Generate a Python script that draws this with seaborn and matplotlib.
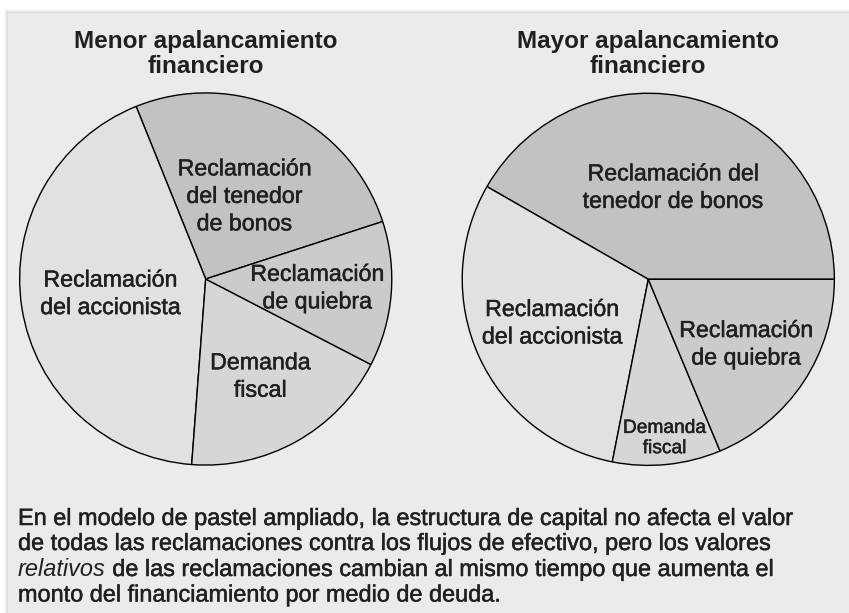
import numpy as np
import matplotlib
matplotlib.use("Agg")
import matplotlib.pyplot as plt
import matplotlib.patheffects as pe
from matplotlib.patches import Rectangle
import seaborn as sns

# Data (share of the pie, in %)
categories = ["Reclamación del tenedor de bonos", "Reclamación del accionista",
              "Demanda fiscal", "Reclamación de quiebra"]
labels_low = ["Reclamación\ndel tenedor\nde bonos", "Reclamación\ndel accionista",
              "Demanda\nfiscal", "Reclamación\nde quiebra"]
labels_high = ["Reclamación del\ntenedor de bonos", "Reclamación\ndel accionista",
               "Demanda\nfiscal", "Reclamación\nde quiebra"]
shares_low = [26.1, 42.7, 18.6, 12.6]
shares_high = [41.7, 30.2, 9.4, 18.7]
titles = ["Menor apalancamiento\nfinanciero", "Mayor apalancamiento\nfinanciero"]
caption = [
    "En el modelo de pastel ampliado, la estructura de capital no afecta el valor",
    "de todas las reclamaciones contra los flujos de efectivo, pero los valores",
    ("relativos", " de las reclamaciones cambian al mismo tiempo que aumenta el"),
    "monto del financiamiento por medio de deuda.",
]

# Styles
slice_colors = ["#c2c2c4", "#e1e1e1", "#d6d6d6", "#cbcbcb"]
panel_color = "#ebebeb"
ink = "#231f20"
heavy = [pe.withStroke(linewidth=0.35, foreground=ink)]

sns.set_theme(style="white")
plt.rcParams["font.family"] = ["Liberation Sans", "DejaVu Sans"]

W, H = 849, 613
fig = plt.figure(figsize=(W / 100, H / 100), dpi=100, facecolor="white")


def fx(px):
    return px / W


def fy(py):
    return 1 - py / H


# grey panel with a soft shadow on the top/left
for i, a in enumerate([0.02, 0.03, 0.04, 0.05]):
    fig.patches.append(Rectangle((fx(4 + i), 0), 1, fy(9 + i), transform=fig.transFigure,
                                 facecolor="#000000", alpha=a, edgecolor="none", zorder=-3))
fig.patches.append(Rectangle((fx(8), 0), 1, fy(13), transform=fig.transFigure,
                             facecolor=panel_color, edgecolor="none", zorder=-2))


def draw_pie(cx, cy, r, shares, labels, start, dists, sizes, title):
    ax = fig.add_axes([fx(cx - r), fy(cy + r), 2 * r / W, 2 * r / H])
    ax.set_facecolor("none")
    wedges, _ = ax.pie(shares, colors=slice_colors, startangle=start, counterclock=True,
                       wedgeprops=dict(edgecolor="black", linewidth=1.0))
    for w, lab, d, s in zip(wedges, labels, dists, sizes):
        mid = np.deg2rad((w.theta1 + w.theta2) / 2)
        ax.text(d * np.cos(mid), d * np.sin(mid), lab, ha="center", va="center",
                multialignment="center", fontsize=s, color=ink, linespacing=1.25,
                path_effects=heavy)
    ax.set_xlim(-1.005, 1.005)
    ax.set_ylim(-1.005, 1.005)
    ax.set_aspect("equal")
    ax.axis("off")
    fig.text(fx(cx), fy(54), title, ha="center", va="center", fontsize=17.5,
             fontweight="bold", color=ink, linespacing=1.1)
    return ax


ax_low = draw_pie(205.7, 279, 187, shares_low, labels_low, 18,
                  [0.49, 0.52, 0.60, 0.60], [16.7, 16.7, 16.7, 16.7], titles[0])
draw_pie(648.3, 279.3, 187, shares_high, labels_high, 0,
         [0.51, 0.57, 0.86, 0.63], [16.7, 16.7, 13.8, 16.7], titles[1])

# caption
baselines = [525, 550, 576, 601.5]
for line, yb in zip(caption, baselines):
    if isinstance(line, tuple):
        t = fig.text(fx(18), fy(yb), line[0], fontsize=16.9, style="italic",
                     color=ink, va="baseline", ha="left")
        ax_low.annotate(line[1], xy=(1, fy(yb)), xycoords=(t, "figure fraction"),
                        fontsize=16.9, color=ink, va="baseline", ha="left",
                        annotation_clip=False, path_effects=heavy)
    else:
        fig.text(fx(18), fy(yb), line, fontsize=16.9, color=ink, va="baseline", ha="left",
                 path_effects=heavy)

fig.savefig("out.png", dpi=100, facecolor=fig.get_facecolor())
